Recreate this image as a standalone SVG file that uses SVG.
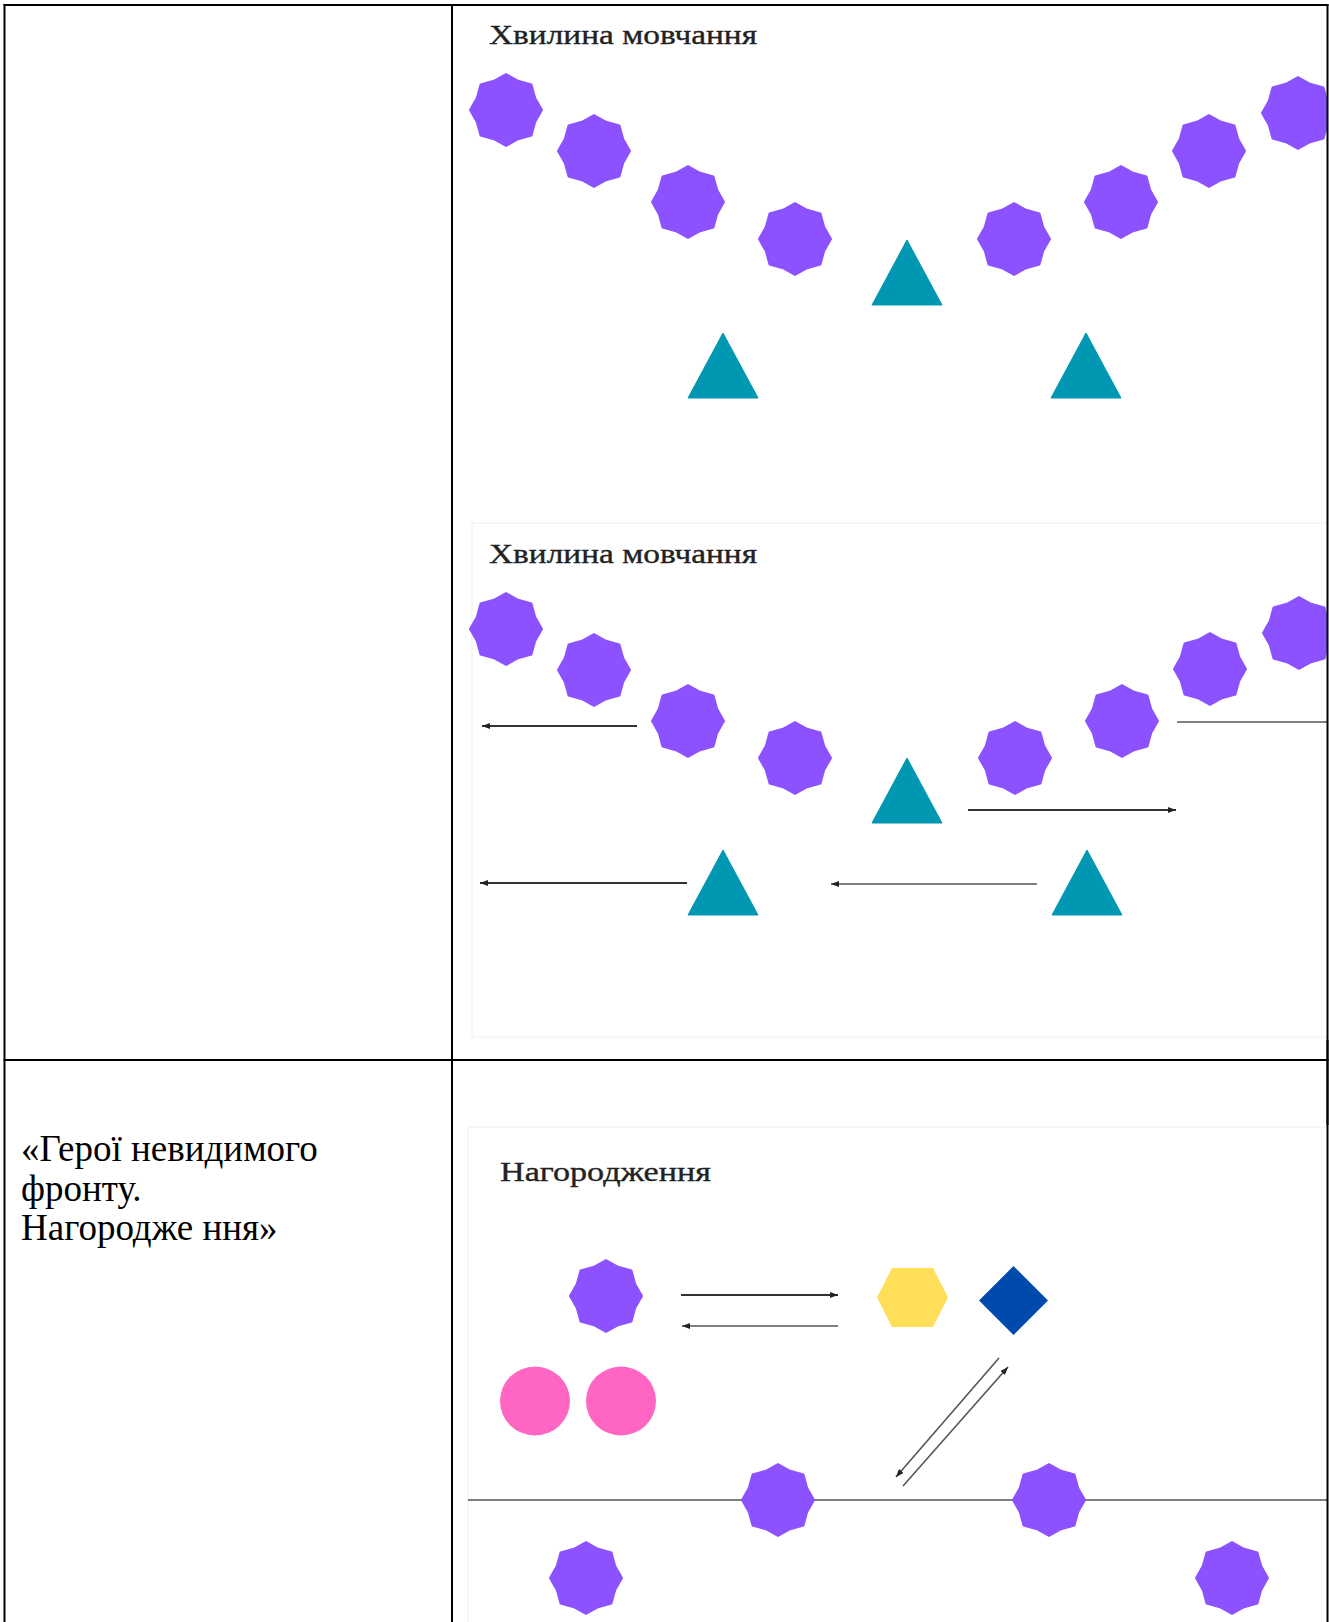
<svg xmlns="http://www.w3.org/2000/svg" xmlns:xlink="http://www.w3.org/1999/xlink" width="1329" height="1622" viewBox="0 0 1329 1622">
<style>
.grid{stroke:#000;stroke-width:2;fill:none}
.star{fill:#8C52FF;stroke:#8C52FF;stroke-width:2;stroke-linejoin:round}
.tri{fill:#0097B2;stroke:#0097B2;stroke-width:1;stroke-linejoin:round}
.title{font-family:"Liberation Serif","Times New Roman",serif;font-size:28px;fill:#222;stroke:#222;stroke-width:0.35}
.cell{font-family:"Liberation Serif","Times New Roman",serif;font-size:37px;fill:#000}
.ln{stroke:#333;stroke-width:2;fill:none}
.thin{stroke:#555;stroke-width:1.6;fill:none}
.frame{stroke:#f4f4f4;stroke-width:1.5;fill:none}
</style>
<defs>
<path id="starShape" d="M0,-36 L12.1,-29.2 L25.46,-25.46 L29.2,-12.1 L36,0 L29.2,12.1 L25.46,25.46 L12.1,29.2 L0,36 L-12.1,29.2 L-25.46,25.46 L-29.2,12.1 L-36,0 L-29.2,-12.1 L-25.46,-25.46 L-12.1,-29.2 Z"/>
<path id="triShape" d="M0,-33 L35,32 L-35,32 Z"/>
<marker id="ah" viewBox="0 0 8 6" refX="8" refY="3" markerWidth="8" markerHeight="6" markerUnits="userSpaceOnUse" orient="auto">
<path d="M0,0 L8,3 L0,6 Z" fill="#222"/>
</marker>
<clipPath id="imgclip"><rect x="453" y="6" width="874" height="1616"/></clipPath>
</defs>
<rect width="1329" height="1622" fill="#fff"/>

<g id="left-cell-text">
<text class="cell" x="21" y="1161">«Герої невидимого</text>
<text class="cell" x="21" y="1201">фронту.</text>
<text class="cell" x="21" y="1240">Нагородже ння»</text>
</g>

<g clip-path="url(#imgclip)">
<!-- image 1 -->
<g id="image1">
<text id="title1" class="title" x="489" y="44" textLength="268" lengthAdjust="spacingAndGlyphs">Хвилина мовчання</text>
<g id="i1-star1"><use xlink:href="#starShape" class="star" x="506" y="110"/></g>
<g id="i1-star2"><use xlink:href="#starShape" class="star" x="594" y="151"/></g>
<g id="i1-star3"><use xlink:href="#starShape" class="star" x="688" y="202"/></g>
<g id="i1-star4"><use xlink:href="#starShape" class="star" x="795" y="239"/></g>
<g id="i1-star5"><use xlink:href="#starShape" class="star" x="1014" y="239"/></g>
<g id="i1-star6"><use xlink:href="#starShape" class="star" x="1121" y="202"/></g>
<g id="i1-star7"><use xlink:href="#starShape" class="star" x="1209" y="151"/></g>
<g id="i1-star8"><use xlink:href="#starShape" class="star" x="1298" y="113"/></g>
<g id="i1-tri-center"><use xlink:href="#triShape" class="tri" x="907" y="273"/></g>
<g id="i1-tri-left"><use xlink:href="#triShape" class="tri" x="723" y="366"/></g>
<g id="i1-tri-right"><use xlink:href="#triShape" class="tri" x="1086" y="366"/></g>
</g>

<!-- image 2 -->
<rect class="frame" x="472" y="523" width="870" height="514"/>
<g id="image2">
<text id="title2" class="title" x="489" y="563" textLength="268" lengthAdjust="spacingAndGlyphs">Хвилина мовчання</text>
<g id="i2-star1"><use xlink:href="#starShape" class="star" x="506" y="629"/></g>
<g id="i2-star2"><use xlink:href="#starShape" class="star" x="594" y="670"/></g>
<g id="i2-star3"><use xlink:href="#starShape" class="star" x="688" y="721"/></g>
<g id="i2-star4"><use xlink:href="#starShape" class="star" x="795" y="758"/></g>
<g id="i2-star5"><use xlink:href="#starShape" class="star" x="1015" y="758"/></g>
<g id="i2-star6"><use xlink:href="#starShape" class="star" x="1122" y="721"/></g>
<g id="i2-star7"><use xlink:href="#starShape" class="star" x="1210" y="669"/></g>
<g id="i2-star8"><use xlink:href="#starShape" class="star" x="1299" y="633"/></g>
<g id="i2-tri-center"><use xlink:href="#triShape" class="tri" x="907" y="791"/></g>
<g id="i2-tri-left"><use xlink:href="#triShape" class="tri" x="723" y="883"/></g>
<g id="i2-tri-right"><use xlink:href="#triShape" class="tri" x="1087" y="883"/></g>
</g>

<!-- image 3 -->
<rect class="frame" x="468" y="1127" width="880" height="520"/>
<g id="image3">
<text id="title3" class="title" x="500" y="1181" textLength="211" lengthAdjust="spacingAndGlyphs">Нагородження</text>
<g id="i3-star-top"><use xlink:href="#starShape" class="star" x="606" y="1296"/></g>
<g id="i3-hexagon"><polygon points="877,1297.5 892,1268 933,1268 948,1297.5 933,1327 892,1327" fill="#FFDE59"/></g>
<g id="i3-diamond"><polygon points="1013.5,1266 1048,1300.5 1013.5,1335 979,1300.5" fill="#004AAD"/></g>
<g id="i3-circle1"><ellipse cx="535" cy="1401" rx="35" ry="34.5" fill="#FF66C4"/></g>
<g id="i3-circle2"><ellipse cx="621" cy="1401" rx="35" ry="34.5" fill="#FF66C4"/></g>
</g>

<g id="connectors">
<line class="ln" x1="637" y1="726" x2="482" y2="726" marker-end="url(#ah)"/>
<line class="ln" x1="687" y1="883" x2="480" y2="883" marker-end="url(#ah)"/>
<line class="thin" x1="1037" y1="884" x2="831" y2="884" marker-end="url(#ah)"/>
<line class="ln" x1="968" y1="810" x2="1176" y2="810" stroke-width="2.5" marker-end="url(#ah)"/>
<line class="thin" x1="1177" y1="722" x2="1329" y2="722"/>
<line class="ln" x1="681" y1="1295" x2="838" y2="1295" marker-end="url(#ah)"/>
<line class="thin" x1="838" y1="1326" x2="682" y2="1326" marker-end="url(#ah)"/>
<line class="thin" x1="999" y1="1358" x2="896" y2="1477" marker-end="url(#ah)"/>
<line class="thin" x1="903" y1="1486" x2="1008" y2="1367" marker-end="url(#ah)"/>
<line class="thin" x1="468" y1="1500" x2="1329" y2="1500" stroke-width="2"/>
</g>

<g id="image3-lower">
<g id="i3-star-line1"><use xlink:href="#starShape" class="star" x="778" y="1500"/></g>
<g id="i3-star-line2"><use xlink:href="#starShape" class="star" x="1049" y="1500"/></g>
<g id="i3-star-bottom1"><use xlink:href="#starShape" class="star" x="586" y="1578"/></g>
<g id="i3-star-bottom2"><use xlink:href="#starShape" class="star" x="1232" y="1578"/></g>
</g>
</g>

<g id="table">
<line class="grid" x1="3.5" y1="5" x2="1328.5" y2="5"/>
<line class="grid" x1="4.5" y1="4" x2="4.5" y2="1622"/>
<line class="grid" x1="452" y1="4" x2="452" y2="1622"/>
<line class="grid" x1="1327.5" y1="4" x2="1327.5" y2="1622"/>
<line class="grid" x1="3.5" y1="1060" x2="1328.5" y2="1060"/>
<line class="grid" x1="1327.5" y1="1040" x2="1327.5" y2="1125" stroke-width="3"/>
</g>
</svg>
